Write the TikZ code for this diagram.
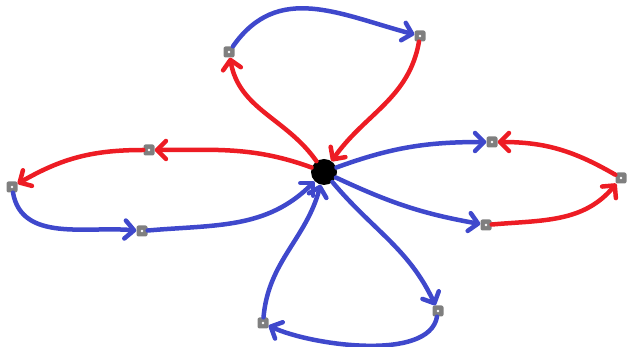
\documentclass[tikz,border=0pt]{standalone}
\usepackage{xcolor}
\usepackage{tikz}
\usetikzlibrary{arrows.meta}
\definecolor{paintred}{RGB}{237,28,36}
\definecolor{paintblue}{RGB}{63,72,204}
\definecolor{paintgray}{RGB}{127,127,127}

\begin{document}
\begin{tikzpicture}[
  x=1pt,y=1pt,
  hub/.style={circle,fill=black,minimum size=26pt,inner sep=0pt},
  spot/.style={rectangle,rounded corners=2pt,fill=paintgray,minimum size=11pt,inner sep=0pt,
    path picture={\fill[white] (path picture bounding box.center) circle (1.3pt);}},
  link/.style={-{Straight Barb[length=9pt,width=18pt,round]},line width=4.5pt,line cap=round},
  redlink/.style={link,paintred},
  bluelink/.style={link,paintblue},
]
  \useasboundingbox (0,0) rectangle (628,347);

  \node[hub] (hub) at (324,175) {};
  % top loop
  \node[spot] (topl) at (229,295) {};
  \node[spot] (topr) at (420,311) {};
  % left loop
  \node[spot] (leftu) at (149,197) {};
  \node[spot] (leftend) at (12,160) {};
  \node[spot] (leftd) at (142,116) {};
  % right loop
  \node[spot] (rightu) at (492,205) {};
  \node[spot] (rightend) at (621,169) {};
  \node[spot] (rightd) at (486,122) {};
  % bottom loop
  \node[spot] (botr) at (438,36) {};
  \node[spot] (botl) at (263,24) {};

  \draw[redlink] (hub) to[out=125,in=-80] (topl);
  \draw[bluelink] (topl) to[out=55,in=165,looseness=1.1] (topr);
  \draw[redlink] (topr) to[out=-100,in=55] (hub);

  \draw[redlink] (hub) to[out=160,in=0] (leftu);
  \draw[redlink] (leftu) to[out=180,in=30] (leftend);
  \draw[bluelink] (leftend) to[out=-80,in=175] (leftd);
  \draw[bluelink] (leftd) to[out=5,in=-135] (hub);

  \draw[bluelink] (hub) to[out=20,in=180] (rightu);
  \draw[redlink] (rightend) to[out=150,in=0] (rightu);
  \draw[bluelink] (hub) to[out=-25,in=170] (rightd);
  \draw[redlink] (rightd) to[out=5,in=-130] (rightend);

  \draw[bluelink] (hub) to[out=-50,in=115] (botr);
  \draw[bluelink] (botr) to[out=-100,in=-25,looseness=0.7] (botl);
  \draw[bluelink] (botl) to[out=85,in=-105] (hub);
\end{tikzpicture}
\end{document}
